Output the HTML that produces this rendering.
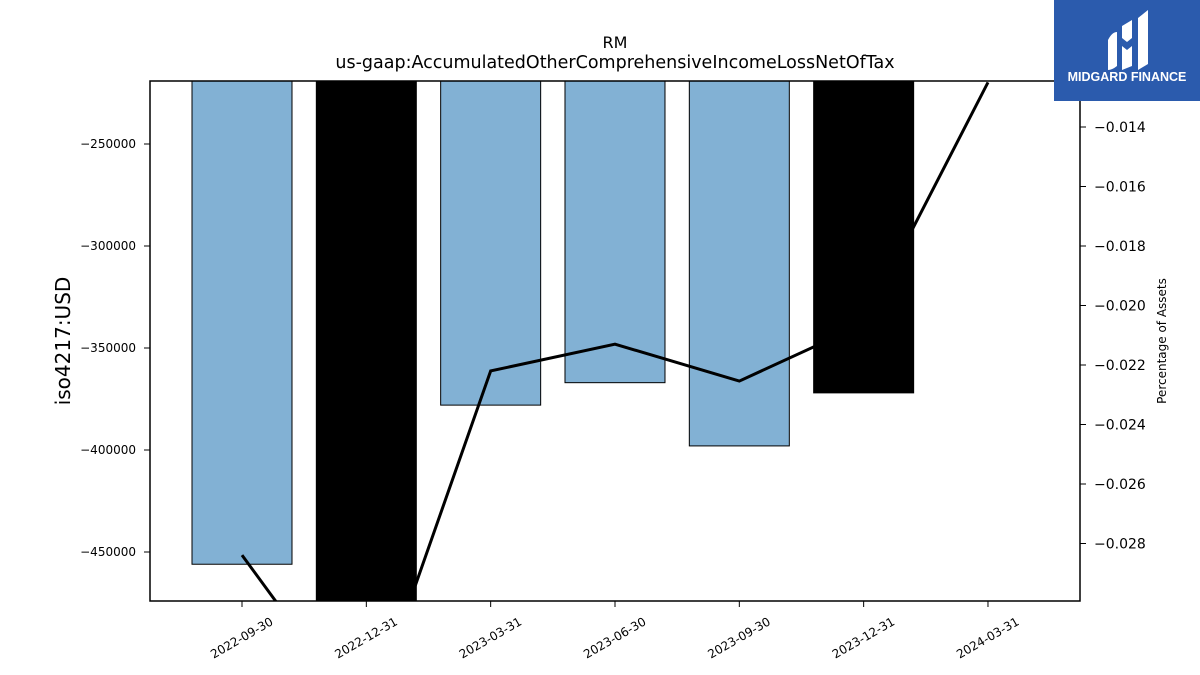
<!DOCTYPE html>
<html><head><meta charset="utf-8"><style>
html,body{margin:0;padding:0;background:#fff;width:1200px;height:675px;overflow:hidden;font-family:"Liberation Sans","DejaVu Sans",sans-serif}
svg{display:block}
</style></head><body>
<svg id="chart" width="1200" height="675" xmlns="http://www.w3.org/2000/svg" font-family="DejaVu Sans, Liberation Sans, sans-serif">
<defs><clipPath id="plotclip"><rect x="150" y="81" width="930" height="520"/></clipPath></defs>
<text x="615" y="48" text-anchor="middle" font-size="16">RM</text>
<text x="615" y="68" text-anchor="middle" font-size="17.5">us-gaap:AccumulatedOtherComprehensiveIncomeLossNetOfTax</text>
<g id="bars-blue" clip-path="url(#plotclip)"></g>
<g id="line" clip-path="url(#plotclip)"></g>
<g id="bars-black" clip-path="url(#plotclip)"></g>
<rect x="150" y="81" width="930" height="520" fill="none" stroke="#000" stroke-width="1.5"/>
<g id="xticks"></g><g id="yticks"></g><g id="y2ticks"></g>
<text transform="translate(70,341) rotate(-90)" text-anchor="middle" font-size="20">iso4217:USD</text>
<text transform="translate(1166,341) rotate(-90)" text-anchor="middle" font-size="12">Percentage of Assets</text>
<g>
<rect x="1054" y="0" width="146" height="101" fill="#2b5bad"/>
<path d="M1108 40 q4-8 9-8 v34 q-5 4-9 4z M1122 26 l10-6 v18 l-5 4 -5-4z M1122 46 l5 4 5-4 v20 l-10 4z M1138 18 l10-8 v54 l-10 6z" fill="#fff"/>
<text x="1127" y="81" text-anchor="middle" fill="#fff" font-size="12.5" font-weight="bold" font-family="Liberation Sans, sans-serif">MIDGARD FINANCE</text>
</g>
</svg>
<script>
const categories=["2022-09-30","2022-12-31","2023-03-31","2023-06-30","2023-09-30","2023-12-31","2024-03-31"];
const barValues=[-456000,-490000,-378000,-367000,-398000,-372000,-210000];
const barColors=["blue","black","blue","blue","blue","black","blue"];
const pctValues=[-0.02839,-0.0341,-0.0222,-0.0213,-0.02254,-0.02062,-0.0125];
const yTicks=[-250000,-300000,-350000,-400000,-450000];
const y2Ticks=[-0.014,-0.016,-0.018,-0.020,-0.022,-0.024,-0.026,-0.028];
const NS="http://www.w3.org/2000/svg";
const X=i=>242+i*124.33;
const Y=v=>144+(-250000-v)/50000*102;
const Y2=v=>127+(-0.014-v)/0.002*59.5;
const bb=document.getElementById('bars-blue'),bk=document.getElementById('bars-black');
barValues.forEach((v,i)=>{
 const r=document.createElementNS(NS,'rect');
 
 
 const y0=Y(0),y1=Y(v);
 r.setAttribute('x',X(i)-50);r.setAttribute('width',100);
 r.setAttribute('y',Math.min(y0,y1));r.setAttribute('height',Math.abs(y1-y0));
 r.setAttribute('fill',barColors[i]==='black'?'#000':'#82b1d4');
 r.setAttribute('stroke','#000');r.setAttribute('stroke-width','1');
 (barColors[i]==='black'?bk:bb).appendChild(r);
});
const pl=document.createElementNS(NS,'polyline');


pl.setAttribute('points',pctValues.map((v,i)=>X(i)+','+Y2(v)).join(' '));
pl.setAttribute('fill','none');pl.setAttribute('stroke','#000');pl.setAttribute('stroke-width','3');
document.getElementById('line').appendChild(pl);
const xt=document.getElementById('xticks');
categories.forEach((c,i)=>{
 const l=document.createElementNS(NS,'line');
 
 
 l.setAttribute('x1',X(i));l.setAttribute('x2',X(i));l.setAttribute('y1',601);l.setAttribute('y2',607);l.setAttribute('stroke','#000');
 xt.appendChild(l);
 const t=document.createElementNS(NS,'text');
 
 
 t.setAttribute('font-size','12');t.setAttribute('text-anchor','end');
 t.setAttribute('transform','translate('+(X(i)+32)+',624) rotate(-30)');
 t.textContent=c;xt.appendChild(t);
});
const yt=document.getElementById('yticks');
yTicks.forEach(v=>{
 const l=document.createElementNS(NS,'line');
 
 
 l.setAttribute('x1',144);l.setAttribute('x2',150);l.setAttribute('y1',Y(v));l.setAttribute('y2',Y(v));l.setAttribute('stroke','#000');
 yt.appendChild(l);
 const t=document.createElementNS(NS,'text');
 
 
 t.setAttribute('font-size','12');t.setAttribute('text-anchor','end');
 t.setAttribute('x',136);t.setAttribute('y',Y(v)+4);
 t.textContent='\u2212'+Math.abs(v);yt.appendChild(t);
});
const y2=document.getElementById('y2ticks');
y2Ticks.forEach(v=>{
 const l=document.createElementNS(NS,'line');
 
 
 l.setAttribute('x1',1080);l.setAttribute('x2',1086);l.setAttribute('y1',Y2(v));l.setAttribute('y2',Y2(v));l.setAttribute('stroke','#000');
 y2.appendChild(l);
 const t=document.createElementNS(NS,'text');
 
 
 t.setAttribute('font-size','14');
 t.setAttribute('x',1094);t.setAttribute('y',Y2(v)+5);
 t.textContent='\u2212'+Math.abs(v).toFixed(3);y2.appendChild(t);
});
</script>
</body></html>
